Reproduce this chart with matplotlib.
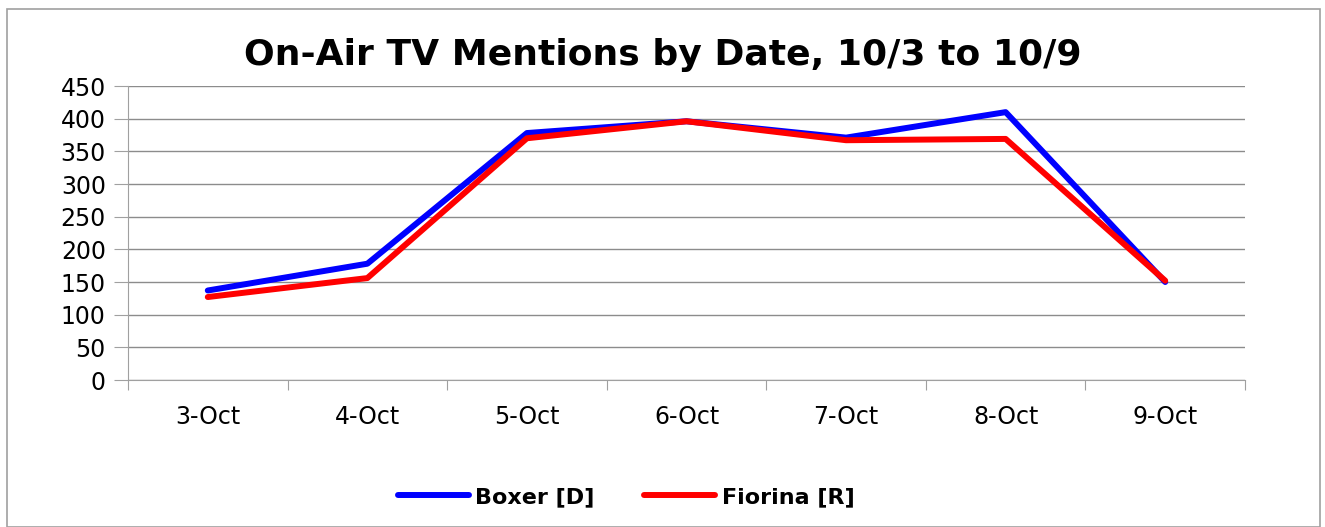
import matplotlib.pyplot as plt
from matplotlib.patches import Rectangle

dates = ['3-Oct', '4-Oct', '5-Oct', '6-Oct', '7-Oct', '8-Oct', '9-Oct']
boxer = [137, 178, 378, 396, 371, 410, 150]
fiorina = [127, 156, 370, 396, 367, 369, 152]

fig = plt.figure(figsize=(13.25, 5.27), dpi=100)
fig.patches.append(Rectangle((7/1325, 0), 1313/1325, 1-9/527, transform=fig.transFigure,
                             fill=False, edgecolor='#a0a0a0', linewidth=1.2))

ax = fig.add_axes([128/1325, 1-380/527, 1117/1325, 294/527])
x = list(range(len(dates)))
ax.plot(x, boxer, color='#0000ff', lw=4.3, label='Boxer [D]', solid_capstyle='round')
ax.plot(x, fiorina, color='#ff0000', lw=4.3, label='Fiorina [R]', solid_capstyle='round')

ax.set_xlim(-0.5, len(dates) - 0.5)
ax.set_ylim(0, 450)
ax.set_yticks(range(0, 451, 50))
ax.set_xticks([i - 0.5 for i in range(len(dates) + 1)])
ax.set_xticklabels([])
ax.set_xticks(x, minor=True)
ax.set_xticklabels(dates, minor=True)
ax.tick_params(axis='x', which='minor', length=0, pad=18, labelsize=17)
ax.tick_params(axis='x', which='major', length=7, color='#a0a0a0', direction='out')
ax.tick_params(axis='y', length=10, color='#a0a0a0', labelsize=17, pad=6)
ax.grid(axis='y', color='#8c8c8c', lw=1)
ax.set_axisbelow(True)
for s in ['top', 'right']:
    ax.spines[s].set_visible(False)
for s in ['left', 'bottom']:
    ax.spines[s].set_color('#a0a0a0')

fig.text(663/1325, 1-55/527, 'On-Air TV Mentions by Date, 10/3 to 10/9', ha='center', va='center',
         fontsize=26, fontweight='bold')
fig.legend(loc='center', bbox_to_anchor=(626/1325, 1-497/527), ncol=2, frameon=False,
           prop={'weight': 'bold', 'size': 16}, handlelength=3.2, columnspacing=2.2, handletextpad=0.3)

fig.savefig('out.png', dpi=100)
